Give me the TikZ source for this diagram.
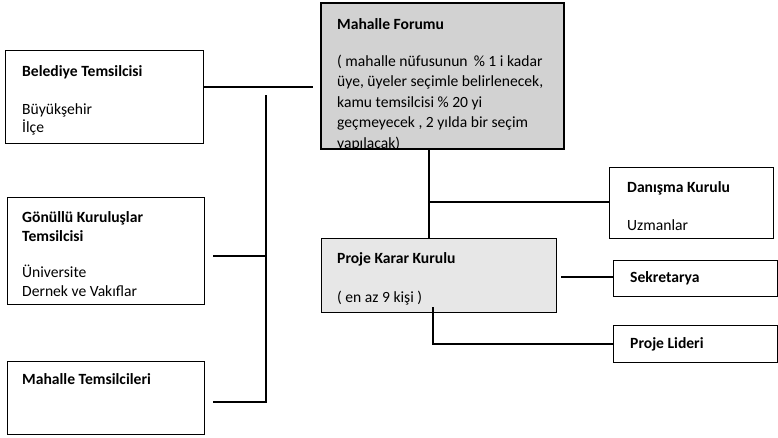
\documentclass[tikz,border=0pt]{standalone}
\usepackage{fontspec}
\setmainfont{Carlito}
\definecolor{forumgray}{RGB}{210,210,210}
\definecolor{pkgray}{RGB}{231,231,231}
\begin{document}
\begin{tikzpicture}[x=1pt,y=-1pt,
  box/.style={draw=black, line width=1.4pt, rectangle, anchor=north west, inner sep=0pt},
  txt/.style={anchor=base west, inner sep=0pt, font=\fontsize{15.6}{18}\selectfont},
  btxt/.style={anchor=base west, inner sep=0pt, font=\fontsize{15.6}{18}\selectfont\bfseries},
  conn/.style={line width=1.6pt}]
\useasboundingbox (0,0) rectangle (778,437);

% boxes
\node[box, fill=forumgray, minimum width=242, minimum height=145] (forum) at (321,3) {};
\node[box, minimum width=198, minimum height=93] (bel) at (5,50) {};
\node[box, minimum width=197, minimum height=107] (gon) at (7,197) {};
\node[box, minimum width=197, minimum height=73] (mt) at (7,361) {};
\node[box, minimum width=164, minimum height=71] (dan) at (609,167) {};
\node[box, fill=pkgray, minimum width=235, minimum height=74] (pk) at (321,238) {};
\node[box, minimum width=164, minimum height=36] (sek) at (613,260) {};
\node[box, minimum width=164, minimum height=37] (pl) at (613,325) {};

% forum text (clipped at the box)
\begin{scope}
\clip (forum.north west) rectangle (forum.south east);
\node[btxt] (f0) at (337,29) {Mahalle Forumu};
\node[txt] (f1) at (337,66) {( mahalle nüfusunun \,\% 1 i kadar};
\node[txt] (f2) at (337,86.5) {üye, üyeler seçimle belirlenecek,};
\node[txt] (f3) at (337,107) {kamu temsilcisi \% 20 yi};
\node[txt] (f4) at (337,127.5) {geçmeyecek , 2 yılda bir seçim};
\node[txt] (f5) at (337,148.5) {yapılacak)};
\end{scope}
\draw[line width=1.4pt] (forum.north west) rectangle (forum.south east);

% left texts
\node[btxt] (b0) at (22,76) {Belediye Temsilcisi};
\node[txt] (b1) at (22,114) {Büyükşehir};
\node[txt] (b2) at (22,132) {İlçe};

\node[btxt] (g0) at (22,222) {Gönüllü Kuruluşlar};
\node[btxt] (g1) at (22,241) {Temsilcisi};
\node[txt] (g2) at (22,277) {Üniversite};
\node[txt] (g3) at (22,296) {Dernek ve Vakıflar};

\node[btxt] (m0) at (22,384) {Mahalle Temsilcileri};

% right texts
\node[btxt] (d0) at (627,192) {Danışma Kurulu};
\node[txt] (d1) at (627,230) {Uzmanlar};
\node[btxt] (p0) at (337,263) {Proje Karar Kurulu};
\node[txt] (p1) at (337,302) {( en az 9 kişi )};
\node[btxt] (s0) at (630,282) {Sekretarya};
\node[btxt] (l0) at (630,348) {Proje Lideri};

% connectors
\coordinate (spineTop) at (266,95);
\coordinate (spineBot) at (266,402);
\draw[conn] (bel.east |- 0,87) -- ([xshift=-8pt]forum.west |- 0,87);
\draw[conn] (spineTop) -- (spineBot) -- ([xshift=8pt]mt.east |- spineBot);
\draw[conn] ([xshift=8pt]gon.east |- 0,256) -- (spineTop |- 0,256);

\coordinate (fb) at (429,148);
\draw[conn] (fb) -- (fb |- pk.north);
\draw[conn] (fb |- 0,202) -- (dan.west |- 0,202);
\draw[conn] ([xshift=4pt]pk.east |- 0,277) -- (sek.west |- 0,277);
\coordinate (pls) at (433,307);
\draw[conn] (pls) -- (pls |- pl.west) -- (pl.west);
\end{tikzpicture}
\end{document}
